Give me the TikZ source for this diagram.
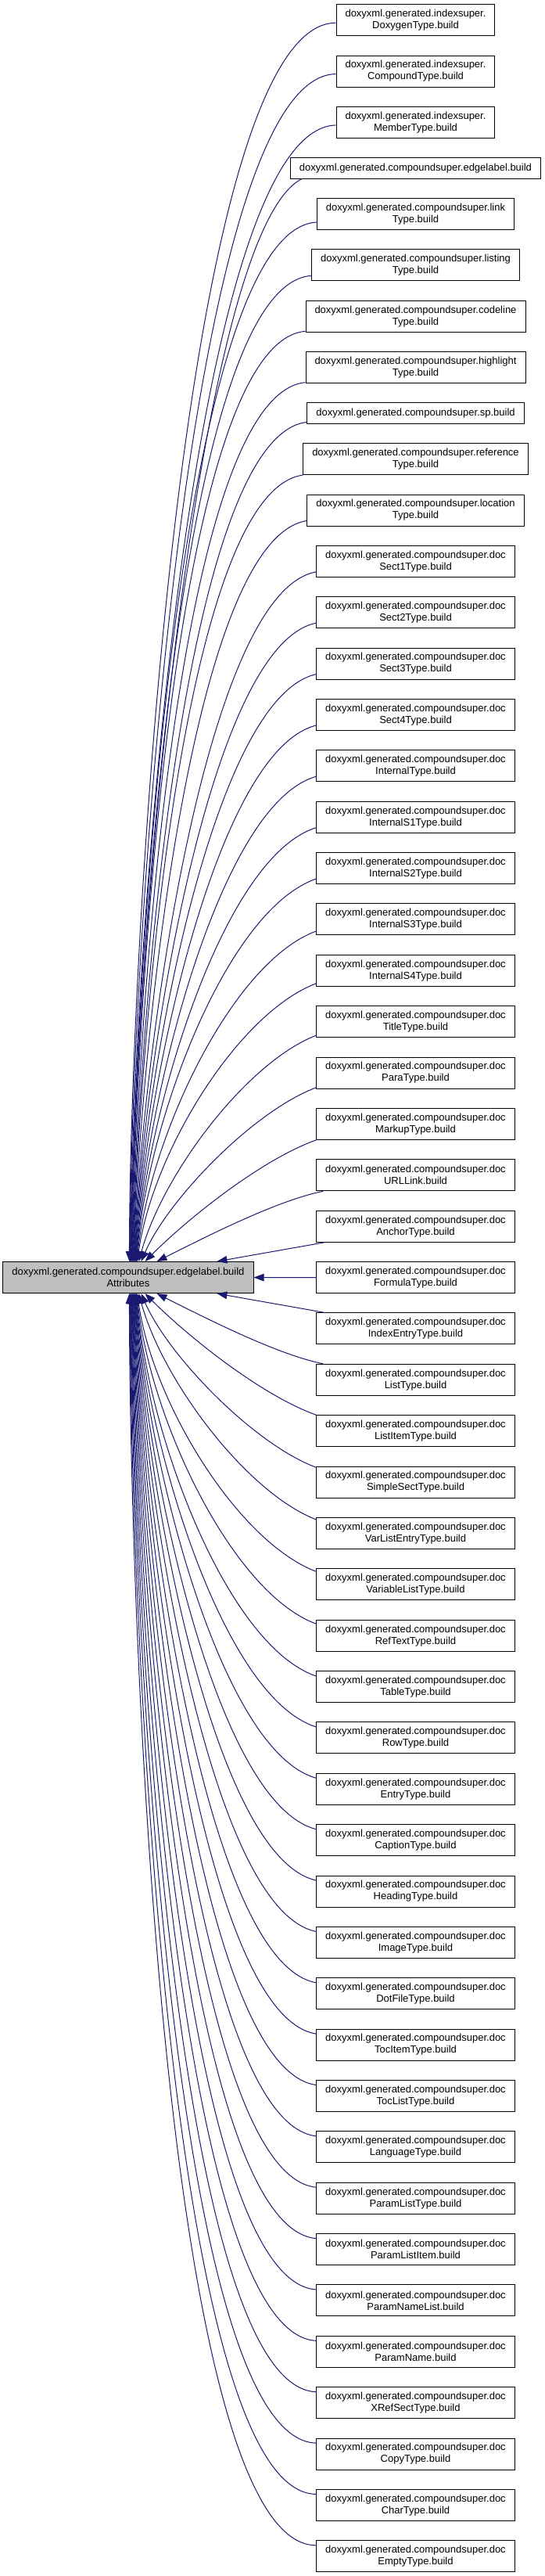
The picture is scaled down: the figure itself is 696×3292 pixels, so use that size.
\documentclass[tikz,border=0pt]{standalone}
\usepackage{fontspec}
\setmainfont{Liberation Sans}
\usetikzlibrary{arrows.meta,calc}
\definecolor{edgeblue}{HTML}{191970}
\definecolor{maingray}{HTML}{BFBFBF}
\newcommand\dfont{\fontsize{13pt}{15pt}\selectfont}
\begin{document}
\begin{tikzpicture}[x=1pt,y=-1pt,
  nbox/.style={draw=black, line width=1pt, fill=white, align=center, inner xsep=11.5pt, inner ysep=0pt, minimum height=40pt, font=\dfont},
  sbox/.style={nbox, minimum height=26.3pt},
  mbox/.style={nbox, fill=maingray},
  conn/.style={draw=edgeblue, line width=1pt, -{Triangle[length=13pt,width=9.5pt]}}]
\fill[white] (0,0) rectangle (696,3292);
\useasboundingbox (0,0) rectangle (696,3292);

% main node
\node[mbox] (main) at (164,1632.55) {doxyxml.generated.compoundsuper.edgelabel.build\\Attributes};

% right column
\node[nbox] (n1) at (531.5,25.7) {doxyxml.generated.indexsuper.\\DoxygenType.build};
\node[nbox] (n2) at (531.5,91.07) {doxyxml.generated.indexsuper.\\CompoundType.build};
\node[nbox] (n3) at (531.5,156.44) {doxyxml.generated.indexsuper.\\MemberType.build};
\node[sbox] (n4) at (531.5,214.96) {doxyxml.generated.compoundsuper.edgelabel.build};
\node[nbox] (n5) at (531.5,273.48) {doxyxml.generated.compoundsuper.link\\Type.build};
\node[nbox] (n6) at (531.5,338.85) {doxyxml.generated.compoundsuper.listing\\Type.build};
\node[nbox] (n7) at (531.5,404.22) {doxyxml.generated.compoundsuper.codeline\\Type.build};
\node[nbox] (n8) at (531.5,469.59) {doxyxml.generated.compoundsuper.highlight\\Type.build};
\node[sbox] (n9) at (531.5,528.11) {doxyxml.generated.compoundsuper.sp.build};
\node[nbox] (n10) at (531.5,586.63) {doxyxml.generated.compoundsuper.reference\\Type.build};
\node[nbox] (n11) at (531.5,652.00) {doxyxml.generated.compoundsuper.location\\Type.build};

\foreach \k/\t in {12/Sect1Type,13/Sect2Type,14/Sect3Type,15/Sect4Type,16/InternalType,
  17/InternalS1Type,18/InternalS2Type,19/InternalS3Type,20/InternalS4Type,21/TitleType,
  22/ParaType,23/MarkupType,24/URLLink,25/AnchorType,26/FormulaType,27/IndexEntryType,
  28/ListType,29/ListItemType,30/SimpleSectType,31/VarListEntryType,32/VariableListType,
  33/RefTextType,34/TableType,35/RowType,36/EntryType,37/CaptionType,38/HeadingType,
  39/ImageType,40/DotFileType,41/TocItemType,42/TocListType,43/LanguageType,
  44/ParamListType,45/ParamListItem,46/ParamNameList,47/ParamName,48/XRefSectType,
  49/CopyType,50/CharType,51/EmptyType}
  \node[nbox] (n\k) at (531.5,{717.37+65.37*(\k-12)}) {doxyxml.generated.compoundsuper.doc\\\t.build};

% straight edge
\draw[conn] (n26) -- (main);

% edges arriving on top of the main node
\foreach \k/\sx/\sy/\a/\d/\dx/\b/\tx in {
  25/11/0/45/8/45/8/278, 24/9/0/60/12/60/30/201, 23/0/0/70/25/55/55/186,
  22/0/1.7/80/30/35/80/181, 21/0/3/90/35/30/110/178, 20/0/4/100/38/20/140/176,
  19/0/5.5/108/40/17/160/175.5, 18/0/7/115/40/15/180/175, 17/0/7/120/37.6/14.1/191/174.5,
  16/0/7/125/35.3/13.2/202/173.9, 15/0/7/130/32.9/12.4/213.5/173.4, 14/0/7/135/30.6/11.5/224.7/172.9,
  13/0/7/140/28.2/10.6/235.9/172.4, 12/0/7/145/25.9/9.7/247/171.8, 11/0/7/150/23.5/8.8/258/171.3,
  10/0/0/155/21.2/7.9/269.4/170.8, 9/0/2.3/160/18.8/7.1/280.6/170.2, 8/0/1.4/165/16.5/6.2/291.8/169.7,
  7/0/1.4/170/14.1/5.3/303/169.2, 6/0/7/175/11.8/4.4/314/168.6, 5/0/10/180/9.4/3.5/325/168.1,
  4/15/0/140/70/2.6/336.5/167.6, 3/0/17/190/4.7/1.8/347.6/167.1, 2/0/17/195/2.4/0.9/358.8/166.5,
  1/0/17/200/0/0/370/166}
  \draw[conn] ($(n\k.south west)+(\sx,-\sy)$) .. controls +(-\a,\d) and +(\dx,-\b) .. ($(main.north west)+(\tx-4,0)$);

% edges arriving below the main node
\foreach \k/\sx/\sy/\a/\d/\dx/\b/\tx in {
  27/11/0/45/8/45/8/278, 28/9/0/60/12/60/30/201, 29/0/0/70/25/55/55/186,
  30/0/1.7/80/30/35/80/181, 31/0/3/90/35/30/110/178, 32/0/4/100/38/20/140/176,
  33/0/5.5/108/40/17/160/175.5, 34/0/7/115/40/15/180/175, 35/0/6.5/120/37.6/14.1/191/174.5,
  36/0/6.5/125/35.3/13.2/202/173.9, 37/0/6.5/130/32.9/12.4/213.5/173.4, 38/0/6.5/135/30.6/11.5/224.7/172.9,
  39/0/6.5/140/28.2/10.6/235.9/172.4, 40/0/6.5/145/25.9/9.7/247/171.8, 41/0/6.5/150/23.5/8.8/258/171.3,
  42/0/6.5/155/21.2/7.9/269.4/170.8, 43/0/6.5/160/18.8/7.1/280.6/170.2, 44/0/6.5/165/16.5/6.2/291.8/169.7,
  45/0/6.5/170/14.1/5.3/303/169.2, 46/0/6.5/175/11.8/4.4/314/168.6, 47/0/6.5/180/9.4/3.5/325/168.1,
  48/0/6.5/185/7.1/2.6/336.5/167.6, 49/0/6.5/190/4.7/1.8/347.6/167.1, 50/0/6.5/195/2.4/0.9/358.8/166.5,
  51/0/6.5/200/0/0/370/166}
  \draw[conn] ($(n\k.north west)+(\sx,\sy)$) .. controls +(-\a,-\d) and +(\dx,\b) .. ($(main.south west)+(\tx-4,0)$);
\end{tikzpicture}
\end{document}
